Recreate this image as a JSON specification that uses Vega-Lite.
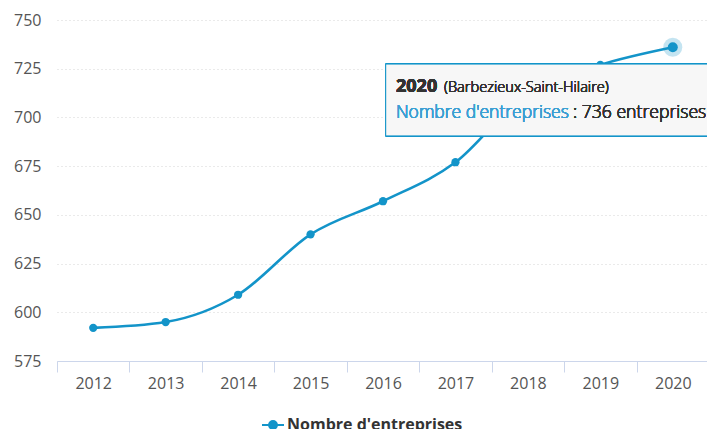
{
  "$schema": "https://vega.github.io/schema/vega-lite/v6.json",
  "width": 652,
  "height": 341,
  "autosize": "none",
  "padding": {"left": 57, "top": 20, "right": 0, "bottom": 68},
  "background": "#ffffff",
  "config": {"view": {"stroke": null}, "font": "Open Sans"},
  "data": {
    "values": [
      {"year": "2012", "value": 592},
      {"year": "2013", "value": 595},
      {"year": "2014", "value": 609},
      {"year": "2015", "value": 640},
      {"year": "2016", "value": 657},
      {"year": "2017", "value": 677},
      {"year": "2018", "value": 713},
      {"year": "2019", "value": 727},
      {"year": "2020", "value": 736}
    ]
  },
  "layer": [
    {
      "mark": {"type": "line", "interpolate": "monotone", "strokeWidth": 2.6, "color": "#1394c9"},
      "encoding": {
        "x": {
          "field": "year", "type": "ordinal", "bandPosition": 0.5,
          "scale": {"type": "band", "paddingInner": 0, "paddingOuter": 0},
          "axis": {
            "title": null, "labelAngle": 0, "labelFontSize": 16, "labelColor": "#555555",
            "labelFont": "Open Sans", "labelPadding": 3,
            "domainColor": "#ccd6eb", "tickColor": "#ccd6eb", "tickSize": 11,
            "tickBand": "extent", "grid": false
          }
        },
        "y": {
          "field": "value", "type": "quantitative",
          "scale": {"domain": [575, 750], "nice": false, "zero": false},
          "axis": {
            "title": null, "values": [575, 600, 625, 650, 675, 700, 725, 750],
            "labelFontSize": 16, "labelColor": "#555555", "labelFont": "Open Sans",
            "labelPadding": 16, "domain": false, "ticks": false,
            "grid": true, "gridColor": "#d4d4d4", "gridDash": [1, 3], "gridWidth": 1
          }
        },
        "color": {
          "datum": "Nombre d'entreprises",
          "scale": {"range": ["#1394c9"]},
          "legend": {
            "title": null, "orient": "none", "legendX": 204, "legendY": 393,
            "symbolType": "M-1,0L1,0M-0.36,0A0.36,0.36,0,1,1,0.36,0A0.36,0.36,0,1,1,-0.36,0Z",
            "symbolSize": 484, "symbolStrokeWidth": 2, "symbolFillColor": "#1394c9",
            "symbolStrokeColor": "#1394c9", "symbolOpacity": 1,
            "labelFont": "Open Sans", "labelFontWeight": "bold", "labelFontSize": 16,
            "labelColor": "#333333", "labelOffset": 2, "labelLimit": 400
          }
        }
      }
    },
    {
      "mark": {"type": "point", "filled": true, "size": 68, "opacity": 1, "color": "#1394c9"},
      "encoding": {
        "x": {"field": "year", "type": "ordinal", "bandPosition": 0.5},
        "y": {"field": "value", "type": "quantitative"}
      }
    },
    {
      "transform": [{"filter": "datum.year == '2020'"}],
      "mark": {"type": "point", "filled": true, "size": 360, "opacity": 0.25, "color": "#1394c9"},
      "encoding": {
        "x": {"field": "year", "type": "ordinal", "bandPosition": 0.5},
        "y": {"field": "value", "type": "quantitative"}
      }
    },
    {
      "transform": [{"filter": "datum.year == '2020'"}],
      "mark": {"type": "point", "filled": true, "size": 100, "opacity": 1, "color": "#1394c9"},
      "encoding": {
        "x": {"field": "year", "type": "ordinal", "bandPosition": 0.5},
        "y": {"field": "value", "type": "quantitative"}
      }
    },
    {
      "mark": {"type": "rect", "fill": "#f7f7f7", "fillOpacity": 0.85, "stroke": "#1394c9", "strokeWidth": 1},
      "encoding": {
        "x": {"datum": "2016", "type": "ordinal", "bandPosition": 0.537},
        "x2": {"datum": "2020", "bandPosition": 1},
        "y": {"datum": 727.4, "type": "quantitative"},
        "y2": {"datum": 690.5}
      }
    },
    {
      "mark": {"type": "text", "text": "2020", "align": "left", "baseline": "alphabetic", "dx": 13, "fontSize": 18, "fontWeight": "bold", "color": "#333333", "font": "Open Sans"},
      "encoding": {
        "x": {"datum": "2016", "type": "ordinal", "bandPosition": 0.5},
        "y": {"datum": 712.9, "type": "quantitative"}
      }
    },
    {
      "mark": {"type": "text", "text": "(Barbezieux-Saint-Hilaire)", "align": "left", "baseline": "alphabetic", "dx": 61, "fontSize": 14.6, "fontWeight": 300, "color": "#333333", "font": "Open Sans"},
      "encoding": {
        "x": {"datum": "2016", "type": "ordinal", "bandPosition": 0.5},
        "y": {"datum": 712.9, "type": "quantitative"}
      }
    },
    {
      "mark": {"type": "text", "text": "Nombre d'entreprises", "align": "left", "baseline": "alphabetic", "dx": 13, "fontSize": 17.5, "fontWeight": 300, "color": "#3b9fd3", "font": "Open Sans"},
      "encoding": {
        "x": {"datum": "2016", "type": "ordinal", "bandPosition": 0.5},
        "y": {"datum": 699.5, "type": "quantitative"}
      }
    },
    {
      "mark": {"type": "text", "text": ": 736 entreprises", "align": "left", "baseline": "alphabetic", "dx": 190, "fontSize": 17.6, "fontWeight": 300, "color": "#333333", "font": "Open Sans"},
      "encoding": {
        "x": {"datum": "2016", "type": "ordinal", "bandPosition": 0.5},
        "y": {"datum": 699.5, "type": "quantitative"}
      }
    }
  ]
}
